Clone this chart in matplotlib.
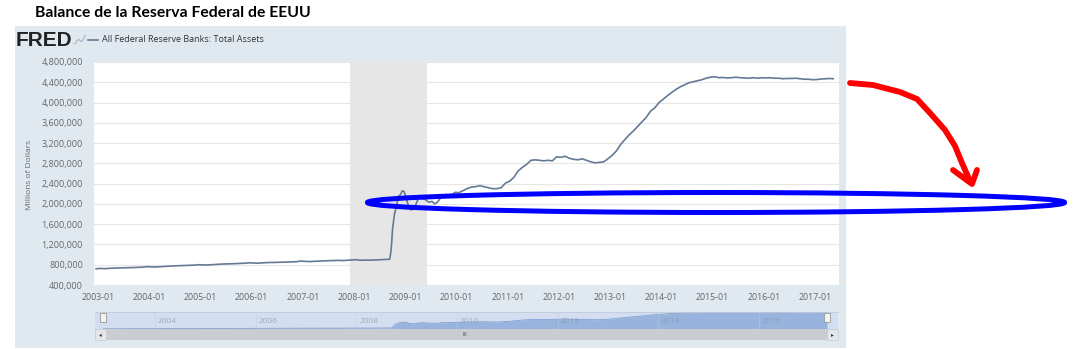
import matplotlib
matplotlib.use("Agg")
import matplotlib.pyplot as plt
from matplotlib.patches import Rectangle, Ellipse
from matplotlib.lines import Line2D
import numpy as np
import pandas as pd

# ---------------- data ----------------
title = "Balance de la Reserva Federal de EEUU"
series_name = "All Federal Reserve Banks: Total Assets"
y_label = "Millions of Dollars"

dates = [
    "2002-12-18",
    "2003-01-15", "2003-02-15", "2003-03-15", "2003-04-15", "2003-05-15", "2003-06-15",
    "2003-07-15", "2003-08-15", "2003-09-15", "2003-10-15", "2003-11-15", "2003-12-15",
    "2004-01-15", "2004-02-15", "2004-03-15", "2004-04-15", "2004-05-15", "2004-06-15",
    "2004-07-15", "2004-08-15", "2004-09-15", "2004-10-15", "2004-11-15", "2004-12-15",
    "2005-01-15", "2005-02-15", "2005-03-15", "2005-04-15", "2005-05-15", "2005-06-15",
    "2005-07-15", "2005-08-15", "2005-09-15", "2005-10-15", "2005-11-15", "2005-12-15",
    "2006-01-15", "2006-02-15", "2006-03-15", "2006-04-15", "2006-05-15", "2006-06-15",
    "2006-07-15", "2006-08-15", "2006-09-15", "2006-10-15", "2006-11-15", "2006-12-15",
    "2007-01-15", "2007-02-15", "2007-03-15", "2007-04-15", "2007-05-15", "2007-06-15",
    "2007-07-15", "2007-08-15", "2007-09-15", "2007-10-15", "2007-11-15", "2007-12-15",
    "2008-01-15", "2008-02-15", "2008-03-15", "2008-04-15", "2008-05-15", "2008-06-15",
    "2008-07-15", "2008-08-15", "2008-09-10", "2008-09-17", "2008-09-24", "2008-10-01",
    "2008-10-15", "2008-10-29", "2008-11-12", "2008-11-26", "2008-12-10", "2008-12-24",
    "2009-01-07", "2009-01-21", "2009-02-11", "2009-02-25", "2009-03-11", "2009-03-25",
    "2009-04-15", "2009-05-06", "2009-05-27", "2009-06-17", "2009-07-08", "2009-07-29",
    "2009-08-19", "2009-09-09", "2009-09-30", "2009-10-21", "2009-11-11", "2009-12-02",
    "2009-12-23",
    "2010-01-15", "2010-02-15", "2010-03-15", "2010-04-15", "2010-05-15", "2010-06-15",
    "2010-07-15", "2010-08-15", "2010-09-15", "2010-10-15", "2010-11-15", "2010-12-15",
    "2011-01-15", "2011-02-15", "2011-03-15", "2011-04-15", "2011-05-15", "2011-06-15",
    "2011-07-15", "2011-08-15", "2011-09-15", "2011-10-15", "2011-11-15", "2011-12-15",
    "2012-01-15", "2012-02-15", "2012-03-15", "2012-04-15", "2012-05-15", "2012-06-15",
    "2012-07-15", "2012-08-15", "2012-09-15", "2012-10-15", "2012-11-15", "2012-12-15",
    "2013-01-15", "2013-02-15", "2013-03-15", "2013-04-15", "2013-05-15", "2013-06-15",
    "2013-07-15", "2013-08-15", "2013-09-15", "2013-10-15", "2013-11-15", "2013-12-15",
    "2014-01-15", "2014-02-15", "2014-03-15", "2014-04-15", "2014-05-15", "2014-06-15",
    "2014-07-15", "2014-08-15", "2014-09-15", "2014-10-15", "2014-11-15", "2014-12-15",
    "2015-01-15", "2015-02-15", "2015-03-15", "2015-04-15", "2015-05-15", "2015-06-15",
    "2015-07-15", "2015-08-15", "2015-09-15", "2015-10-15", "2015-11-15", "2015-12-15",
    "2016-01-15", "2016-02-15", "2016-03-15", "2016-04-15", "2016-05-15", "2016-06-15",
    "2016-07-15", "2016-08-15", "2016-09-15", "2016-10-15", "2016-11-15", "2016-12-15",
    "2017-01-15", "2017-02-15", "2017-03-15", "2017-04-15", "2017-05-10",
]

# thousands of millions of dollars
total_assets_k = [
    720,
    728, 722, 727, 733, 735, 738, 740, 742, 745, 748, 752, 762,
    758, 755, 760, 765, 772, 776, 778, 782, 786, 788, 792, 800,
    798, 795, 800, 806, 810, 815, 816, 820, 822, 826, 830, 838,
    834, 830, 836, 842, 843, 846, 848, 850, 852, 856, 860, 872,
    866, 862, 866, 872, 876, 878, 880, 884, 886, 882, 888, 895,
    900, 888, 892, 890, 892, 896, 900, 905, 908, 1010, 1200, 1500,
    1800, 1950, 2150, 2180, 2260, 2240,
    2100, 1980, 1880, 1900, 1950, 2050, 2150, 2100, 2080, 2030, 2050, 2000,
    2040, 2120, 2150, 2130, 2160, 2190, 2230,
    2220, 2260, 2300, 2330, 2340, 2360, 2340, 2320, 2300, 2300, 2320, 2410,
    2450, 2530, 2650, 2720, 2780, 2860, 2870, 2860, 2850, 2860, 2850, 2930,
    2920, 2940, 2900, 2880, 2870, 2890, 2860, 2830, 2810, 2820, 2830, 2890,
    2960, 3050, 3170, 3270, 3360, 3440, 3530, 3620, 3710, 3830, 3900, 4000,
    4070, 4140, 4200, 4260, 4310, 4350, 4390, 4410, 4430, 4450, 4480, 4500,
    4510, 4490, 4495, 4485, 4490, 4500, 4490, 4485, 4480, 4490, 4480, 4490,
    4485, 4490, 4480, 4480, 4470, 4475, 4475, 4480, 4470, 4460, 4460, 4450,
    4455, 4465, 4470, 4475, 4470,
]

recession_start = "2007-12-01"
recession_end = "2009-06-01"

y_ticks = [400000, 800000, 1200000, 1600000, 2000000, 2400000, 2800000,
           3200000, 3600000, 4000000, 4400000, 4800000]
x_tick_years = list(range(2003, 2018))
nav_years = [2004, 2006, 2008, 2010, 2012, 2014, 2016]

# ---------------- figure ----------------
W, H = 1084, 349
fig = plt.figure(figsize=(W / 100, H / 100), dpi=100)
fig.patch.set_facecolor("white")

FONT = "Open Sans"
LINE_C = "#647a94"
TICK_C = "#666666"


def rect(x0, y0, x1, y1):
    return [x0 / W, 1 - y1 / H, (x1 - x0) / W, (y1 - y0) / H]


def P(x, y):
    return (x / W, 1 - y / H)


x = pd.to_datetime(dates)
y = np.array(total_assets_k) * 1000

# outer panel (drawn under all axes)
fig.patches.append(Rectangle(P(15, 348), (846 - 15) / W, (348 - 26) / H,
                             transform=fig.transFigure, facecolor="#e1e9f0",
                             edgecolor="none", zorder=-10))

# title
fig.text(*P(35, 13), title, fontsize=11.3, fontweight="bold", family="Lato",
         va="center", ha="left", color="#000000")

# FRED logo + legend
fig.text(*P(16, 41), "FRED", fontsize=15, fontweight="bold",
         family="Liberation Sans", va="center", ha="left", color="#222222")
icon = fig.add_axes(rect(74, 34, 86, 46))
icon.axis("off")
icon.plot([0, 1, 2, 3], [0.2, 0.6, 0.4, 1.0], color="#aab4bf", lw=0.8)
icon.set_xlim(-0.2, 3.2)
icon.set_ylim(0, 1.1)
fig.lines.append(Line2D([88 / W, 98 / W], [1 - 40 / H, 1 - 40 / H],
                        transform=fig.transFigure, color=LINE_C, lw=1.2))
fig.text(*P(102, 40), series_name, fontsize=6.5, family=FONT, va="center",
         ha="left", color="#333333")

# main axes
ax = fig.add_axes(rect(94, 62, 839, 285))
ax.set_facecolor("white")
ax.axvspan(pd.Timestamp(recession_start), pd.Timestamp(recession_end),
           color="#e6e6e6", lw=0, zorder=0)
ax.plot(x, y, color=LINE_C, lw=1.2, zorder=3)
ax.set_ylim(400000, 4800000)
ax.set_xlim(pd.Timestamp("2002-12-03"), pd.Timestamp("2017-06-20"))
ax.set_yticks(y_ticks)
ax.set_yticklabels([f"{v:,}" for v in y_ticks])
ax.set_xticks([pd.Timestamp(f"{yr}-01-01") for yr in x_tick_years])
ax.set_xticklabels([f"{yr}-01" for yr in x_tick_years])
ax.grid(axis="y", color="#e6e6e6", lw=0.8, zorder=1)
ax.set_axisbelow(True)
for s in ax.spines.values():
    s.set_visible(False)
ax.tick_params(axis="y", length=0, pad=8, labelsize=6.5, labelcolor=TICK_C)
ax.tick_params(axis="x", length=0, pad=6, labelsize=6.3, labelcolor=TICK_C)
for lab in ax.get_xticklabels() + ax.get_yticklabels():
    lab.set_family(FONT)
fig.text(*P(30, 175), y_label, rotation=90, fontsize=6, family=FONT,
         va="center", ha="center", color=TICK_C)

# navigator background
fig.patches.append(Rectangle(P(95, 329), (838 - 95) / W, (329 - 312) / H,
                             transform=fig.transFigure, facecolor="#d3def0",
                             edgecolor="none", zorder=-5))
fig.lines.append(Line2D([95 / W, 838 / W], [1 - 311.5 / H] * 2,
                        transform=fig.transFigure, color="#c2cad6", lw=0.6))
nav = fig.add_axes(rect(103, 312, 827, 329))
nav.patch.set_alpha(0)
nav.fill_between(x, y.min(), y, color="#98b4de", lw=0)
nav.plot(x, y, color="#7f9fcf", lw=0.6)
nav.set_xlim(x.min(), x.max())
nav.set_ylim(y.min() - 40000, y.max() + 80000)
nav.axis("off")
for yr in nav_years:
    nav.text(pd.Timestamp(f"{yr}-01-01") + pd.Timedelta(days=20), 0.45, str(yr),
             transform=nav.get_xaxis_transform(), fontsize=6, family=FONT,
             color="#8a96a8", alpha=0.7, va="center", ha="left")
    nav.axvline(pd.Timestamp(f"{yr}-01-01"), color="#c0cce0", lw=0.5, alpha=0.6)

# handles
for hx in (103, 827):
    fig.patches.append(Rectangle(P(hx - 3, 322), 6 / W, 9 / H,
                                 transform=fig.transFigure, facecolor="#f2f2f2",
                                 edgecolor="#999999", lw=0.6, zorder=5))

# scrollbar
fig.patches.append(Rectangle(P(95, 340), (838 - 95) / W, 11 / H,
                             transform=fig.transFigure, facecolor="#c9ccd1",
                             edgecolor="none", zorder=1))
for bx0, sym in ((95, "\u25c2"), (827, "\u25b8")):
    fig.patches.append(Rectangle(P(bx0, 340), 11 / W, 11 / H,
                                 transform=fig.transFigure, facecolor="#e4e6ea",
                                 edgecolor="#c9ccd1", lw=0.5, zorder=2))
    fig.text(*P(bx0 + 5.5, 334.5), sym, fontsize=4, family="DejaVu Sans",
             ha="center", va="center", color="#333333", zorder=3)
fig.text(*P(465, 334.5), "III", fontsize=4, family="DejaVu Sans",
         ha="center", va="center", color="#555555")

# hand-drawn annotations
red_pts = [(850, 83), (873, 85), (900, 92), (917, 99), (930, 113), (945, 130),
           (955, 146), (962, 163), (970, 181)]
fig.lines.append(Line2D([p[0] / W for p in red_pts], [1 - p[1] / H for p in red_pts],
                        transform=fig.transFigure, color="#ff0000", lw=4.2,
                        solid_capstyle="round", solid_joinstyle="round", zorder=10))
head = [(953, 170), (972, 184), (977, 170)]
fig.lines.append(Line2D([p[0] / W for p in head], [1 - p[1] / H for p in head],
                        transform=fig.transFigure, color="#ff0000", lw=4.2,
                        solid_capstyle="round", solid_joinstyle="round", zorder=10))
fig.patches.append(Ellipse(P(716, 202.5), 697 / W, 20 / H, transform=fig.transFigure,
                           facecolor="none", edgecolor="#0000ff", lw=3.6, zorder=11))

fig.savefig("out.png", dpi=100)
